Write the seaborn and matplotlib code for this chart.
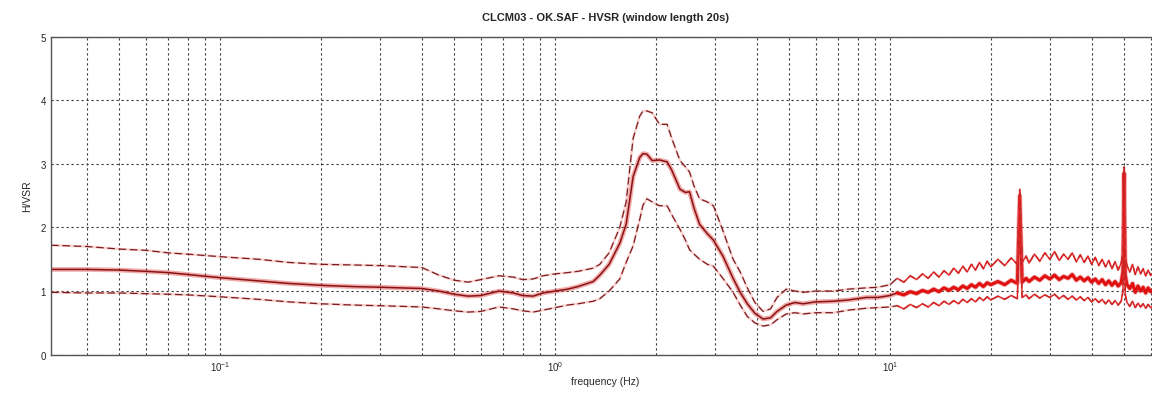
import numpy as np
import pandas as pd
import matplotlib
matplotlib.use("Agg")
import matplotlib.pyplot as plt
import seaborn as sns

# Frequencies (Hz) - smooth part of the curve
freq_lo = [0.0313, 0.04, 0.05, 0.06, 0.07, 0.08, 0.1, 0.13, 0.16, 0.2, 0.25, 0.3, 0.4, 0.45,
           0.5, 0.55, 0.6, 0.68, 0.75, 0.8, 0.86, 0.92, 1.0, 1.09, 1.17, 1.3, 1.36, 1.45,
           1.56, 1.63, 1.71, 1.79, 1.83, 1.88, 1.95, 2.05, 2.16, 2.23, 2.36, 2.45, 2.52, 2.6,
           2.7, 2.85, 2.97, 3.17, 3.4, 3.57, 3.75, 3.95, 4.18, 4.4, 4.6, 4.9, 5.2, 5.5, 6.0,
           6.8, 7.5, 8.5, 9.2, 10.0]
# Frequencies (Hz) - noisy high-frequency part
freq_hi = [10.5, 11, 11.5, 12, 12.5, 13, 13.5, 14, 14.5, 15, 15.5, 16, 16.5, 17, 17.5, 18,
           18.5, 19, 19.5, 20, 21, 22, 23, 24, 24.4, 24.8, 25.5, 26, 27, 28, 29, 30, 31, 32,
           33, 34, 35, 36, 37, 38, 39, 40, 41, 42, 43, 44, 45, 46, 47, 48, 49, 49.6, 50,
           50.4, 51, 52, 53, 54, 55, 56, 57, 58, 59, 60, 62, 64]

# mean H/V ratio
hv_mean_lo = [1.34, 1.34, 1.33, 1.31, 1.29, 1.26, 1.21, 1.16, 1.12, 1.09, 1.07, 1.06, 1.04, 1.0,
              0.95, 0.92, 0.93, 1.0, 0.97, 0.93, 0.92, 0.97, 1.0, 1.03, 1.07, 1.15, 1.25, 1.42,
              1.75, 2.05, 2.8, 3.1, 3.16, 3.15, 3.05, 3.06, 3.03, 2.9, 2.6, 2.55, 2.56, 2.3,
              2.05, 1.9, 1.8, 1.55, 1.2, 0.98, 0.8, 0.65, 0.56, 0.58, 0.68, 0.78, 0.82, 0.8, 0.83,
              0.84, 0.86, 0.9, 0.9, 0.93]
hv_mean_hi = [0.97, 0.94, 0.99, 0.96, 1.01, 0.98, 1.03, 0.99, 1.05, 1.01, 1.06, 1.02, 1.08, 1.04,
              1.1, 1.06, 1.12, 1.07, 1.13, 1.1, 1.15, 1.1, 1.17, 1.12, 2.5, 1.14, 1.2, 1.15,
              1.22, 1.17, 1.24, 1.19, 1.25, 1.18, 1.23, 1.2, 1.26, 1.17, 1.22, 1.16, 1.21, 1.14,
              1.19, 1.12, 1.18, 1.1, 1.16, 1.09, 1.15, 1.08, 1.13, 1.3, 2.85, 1.25, 1.1, 1.04,
              1.12, 0.98, 1.08, 1.0, 1.06, 0.97, 1.05, 0.99, 1.03, 0.98]

# mean + std
hv_upper_lo = [1.72, 1.7, 1.66, 1.64, 1.6, 1.58, 1.54, 1.5, 1.45, 1.42, 1.41, 1.4, 1.37, 1.25,
               1.17, 1.14, 1.18, 1.24, 1.22, 1.18, 1.19, 1.24, 1.27, 1.29, 1.31, 1.36, 1.42, 1.6,
               2.0, 2.4, 3.4, 3.75, 3.83, 3.83, 3.8, 3.62, 3.62, 3.4, 3.05, 2.95, 2.87, 2.65,
               2.45, 2.4, 2.34, 1.95, 1.5, 1.3, 1.05, 0.82, 0.68, 0.72, 0.9, 1.03, 1.0, 0.98, 1.0,
               1.0, 1.03, 1.05, 1.06, 1.1]
hv_upper_hi = [1.2, 1.14, 1.24, 1.18, 1.27, 1.2, 1.3, 1.22, 1.32, 1.25, 1.36, 1.28, 1.39, 1.3,
               1.42, 1.33, 1.45, 1.35, 1.47, 1.38, 1.5, 1.4, 1.52, 1.42, 2.6, 1.45, 1.55, 1.44,
               1.58, 1.47, 1.6, 1.5, 1.62, 1.48, 1.58, 1.5, 1.6, 1.46, 1.57, 1.45, 1.55, 1.42,
               1.53, 1.4, 1.5, 1.38, 1.48, 1.35, 1.46, 1.33, 1.44, 1.6, 2.95, 1.55, 1.4, 1.3,
               1.42, 1.26, 1.38, 1.27, 1.35, 1.24, 1.33, 1.25, 1.3, 1.22]

# mean - std
hv_lower_lo = [0.98, 0.97, 0.97, 0.96, 0.95, 0.94, 0.91, 0.87, 0.83, 0.8, 0.78, 0.77, 0.75, 0.72,
               0.69, 0.67, 0.68, 0.75, 0.72, 0.69, 0.67, 0.7, 0.74, 0.78, 0.8, 0.84, 0.88, 1.0,
               1.19, 1.45, 1.71, 2.13, 2.35, 2.45, 2.4, 2.34, 2.34, 2.2, 1.97, 1.8, 1.65, 1.58,
               1.5, 1.42, 1.39, 1.2, 0.98, 0.78, 0.6, 0.5, 0.45, 0.47, 0.55, 0.64, 0.66, 0.64, 0.66,
               0.66, 0.7, 0.73, 0.74, 0.75]
hv_lower_hi = [0.77, 0.72, 0.79, 0.74, 0.8, 0.75, 0.82, 0.77, 0.84, 0.79, 0.85, 0.8, 0.87, 0.82,
               0.88, 0.83, 0.9, 0.85, 0.91, 0.86, 0.92, 0.87, 0.93, 0.88, 2.3, 0.9, 0.94, 0.88,
               0.95, 0.89, 0.94, 0.9, 0.95, 0.88, 0.93, 0.87, 0.92, 0.86, 0.91, 0.85, 0.9, 0.83,
               0.88, 0.82, 0.87, 0.8, 0.86, 0.79, 0.85, 0.78, 0.84, 1.0, 2.7, 0.95, 0.82, 0.76,
               0.84, 0.74, 0.81, 0.75, 0.8, 0.73, 0.79, 0.74, 0.78, 0.73]

df = pd.DataFrame({
    'freq': freq_lo + freq_hi,
    'mean': hv_mean_lo + hv_mean_hi,
    'upper': hv_upper_lo + hv_upper_hi,
    'lower': hv_lower_lo + hv_lower_hi,
})
df_hi = df[df['freq'] > 10]

sns.set_style("white")
plt.rcParams['font.family'] = ['Liberation Sans', 'DejaVu Sans']

fig = plt.figure(figsize=(11.52, 4.06), dpi=100)
ax = fig.add_axes([51 / 1152, 50.3 / 406, 1109 / 1152, 318.2 / 406])

# light red halo + dark core for the mean curve
sns.lineplot(data=df, x='freq', y='mean', color='#e04848', linewidth=3.4, alpha=0.45,
             estimator=None, ax=ax)
sns.lineplot(data=df, x='freq', y='mean', color='#8a1212', linewidth=1.1,
             estimator=None, ax=ax)
# high-frequency part looks bright red in the original
sns.lineplot(data=df_hi, x='freq', y='mean', color='#e01010', linewidth=2.2,
             estimator=None, ax=ax)
for col in ['upper', 'lower']:
    sns.lineplot(data=df, x='freq', y=col, color='#f08080', linewidth=1.8, alpha=0.35,
                 estimator=None, ax=ax)
    sns.lineplot(data=df, x='freq', y=col, color='#7c1c1c', linewidth=0.9,
                 linestyle=(0, (6, 3)), estimator=None, ax=ax)
    sns.lineplot(data=df_hi, x='freq', y=col, color='#e02020', linewidth=0.9,
                 estimator=None, ax=ax)

ax.set_xscale('log')
ax.set_xlim(0.03125, 64)
ax.set_ylim(0, 5)
ax.set_yticks([0, 1, 2, 3, 4, 5])

ax.grid(True, which='major', axis='both', color='#3a3a3a', linestyle=(0, (2, 2.5)), linewidth=0.8)
ax.grid(True, which='minor', axis='x', color='#3a3a3a', linestyle=(0, (2, 2.5)), linewidth=0.8)
ax.set_axisbelow(True)

ax.tick_params(axis='both', which='major', direction='in', length=4, labelsize=7, color='#333333')
ax.tick_params(axis='x', which='minor', direction='in', length=2, color='#333333')
for s in ax.spines.values():
    s.set_color('#555555')
    s.set_linewidth(1.0)

ax.set_title('CLCM03 - OK.SAF - HVSR (window length 20s)', fontsize=8, fontweight='bold', pad=12)
ax.set_xlabel('frequency (Hz)', fontsize=7.5, labelpad=2)
ax.set_ylabel('H/VSR', fontsize=7.5, labelpad=6)

fig.savefig('out.png', dpi=100)
